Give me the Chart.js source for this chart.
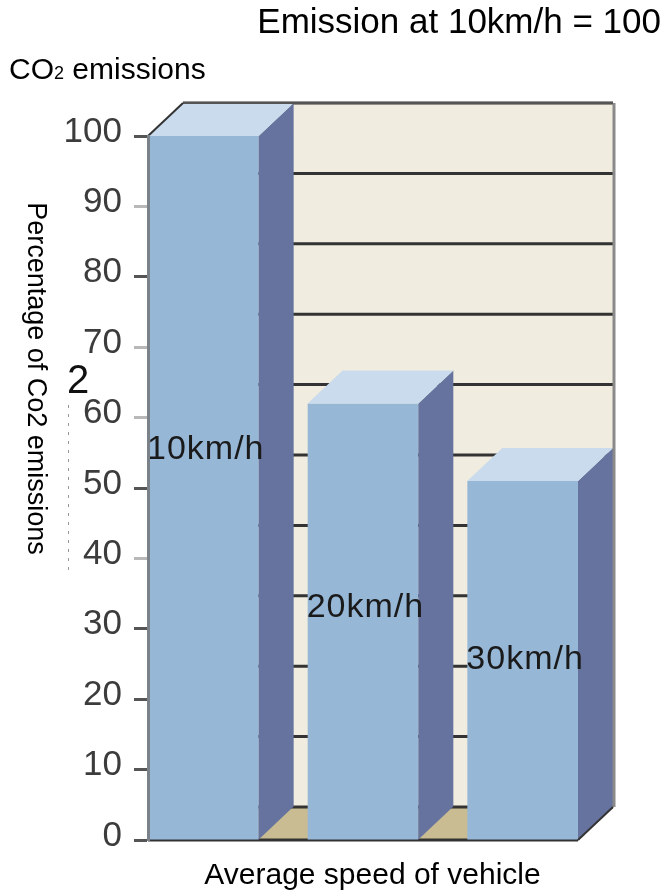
<!DOCTYPE html>
<html>
<head>
<meta charset="utf-8">
<script src="https://cdn.jsdelivr.net/npm/chart.js@4.4.1/dist/chart.umd.min.js"></script>
<style>
  html, body { margin: 0; padding: 0; background: #fff; }
  #wrap { position: relative; width: 667px; height: 892px; }
</style>
</head>
<body>
<div id="wrap"><canvas id="co2Chart"></canvas></div>
<script>
// data
const categories = ["10km/h", "20km/h", "30km/h"];
const emissions = [100, 62, 51];
const yTicks = [0, 10, 20, 30, 40, 50, 60, 70, 80, 90, 100];

const titleText = "Emission at 10km/h = 100";
const unitText = ["CO", "2", " emissions"];
const yTitle = "Percentage of Co2 emissions";
const xTitle = "Average speed of vehicle";

const FONT = '"Liberation Sans", Arial, sans-serif';
const DEPTH_X = 35;
const DEPTH_Y = 33;
const HALF_BAR = 0.3465;
// where each bar label sits, in axis units
const labelAt = [54.1, 31.7, 24.3];

const colors = {
  front: "#97b7d7",
  side: "#65739e",
  top: "#c9dbed",
  wall: "#f0ecdf",
  floor: "#c9bc92",
  grid: "#333333",
  frame: "#8a8a8a",
};

function poly(ctx, pts, fill) {
  ctx.beginPath();
  ctx.moveTo(pts[0][0], pts[0][1]);
  for (let i = 1; i < pts.length; i++) ctx.lineTo(pts[i][0], pts[i][1]);
  ctx.closePath();
  ctx.fillStyle = fill;
  ctx.fill();
}

function line(ctx, x1, y1, x2, y2) {
  ctx.beginPath();
  ctx.moveTo(x1, y1);
  ctx.lineTo(x2, y2);
  ctx.stroke();
}

const box3d = {
  id: "box3d",
  beforeDatasetsDraw(chart) {
    const { ctx, chartArea: a } = chart;
    const y = chart.scales.y;
    const dx = DEPTH_X, dy = DEPTH_Y;
    ctx.save();
    ctx.fillStyle = colors.wall;
    ctx.fillRect(a.left + dx, a.top - dy, a.right - a.left, a.bottom - a.top);
    poly(ctx, [[a.left, a.bottom], [a.right, a.bottom], [a.right + dx, a.bottom - dy], [a.left + dx, a.bottom - dy]], colors.floor);
    ctx.strokeStyle = colors.grid;
    ctx.lineWidth = 3;
    yTicks.forEach((v) => {
      const py = y.getPixelForValue(v) - dy;
      line(ctx, a.left + dx, py, a.right + dx, py);
    });
    line(ctx, a.left, a.bottom, a.right, a.bottom);
    ctx.restore();
  },
  afterDatasetsDraw(chart) {
    const { ctx, chartArea: a } = chart;
    const y = chart.scales.y;
    const dx = DEPTH_X, dy = DEPTH_Y;
    const meta = chart.getDatasetMeta(0);
    ctx.save();
    const edges = [];
    meta.data.forEach((bar) => {
      const p = bar.getProps(["x", "y", "width", "base"], true);
      const l = p.x - p.width / 2, r = p.x + p.width / 2;
      poly(ctx, [[r, p.y], [r + dx, p.y - dy], [r + dx, p.base - dy], [r, p.base]], colors.side);
      poly(ctx, [[l, p.y], [r, p.y], [r + dx, p.y - dy], [l + dx, p.y - dy]], colors.top);
      edges.push(l);
    });

    // frame of the box
    ctx.strokeStyle = colors.frame;
    ctx.lineWidth = 3;
    line(ctx, a.right + dx + 1, a.top - dy, a.right + dx + 1, a.bottom - dy);
    ctx.strokeStyle = "#555";
    ctx.lineWidth = 2;
    line(ctx, a.left + dx, a.top - dy, a.right + dx, a.top - dy);
    ctx.strokeStyle = "#333";
    line(ctx, a.left, a.top, a.left + dx, a.top - dy);
    line(ctx, a.right, a.bottom, a.right + dx, a.bottom - dy);

    // bar labels
    ctx.fillStyle = "#1a1a1a";
    ctx.font = "34px " + FONT;
    ctx.letterSpacing = "1px";
    ctx.textAlign = "left";
    ctx.textBaseline = "alphabetic";
    categories.forEach((c, i) => {
      ctx.fillText(c, edges[i] - 1, y.getPixelForValue(labelAt[i]));
    });
    ctx.restore();
  },
};

const texts = {
  id: "texts",
  afterDraw(chart) {
    const ctx = chart.ctx;
    ctx.save();
    ctx.fillStyle = "#000";
    ctx.textBaseline = "alphabetic";

    ctx.font = "35px " + FONT;
    ctx.textAlign = "right";
    ctx.fillText(titleText, 661, 33);

    ctx.textAlign = "left";
    let x = 9;
    ctx.font = "30px " + FONT;
    ctx.fillText(unitText[0], x, 79);
    x += ctx.measureText(unitText[0]).width;
    ctx.font = "18px " + FONT;
    ctx.fillText(unitText[1], x, 79);
    x += ctx.measureText(unitText[1]).width;
    ctx.font = "30px " + FONT;
    ctx.fillText(unitText[2], x, 79);

    ctx.font = "30px " + FONT;
    ctx.textAlign = "center";
    ctx.fillText(xTitle, 372.5, 884);

    // stray subscript and dashes left over in the original image
    ctx.textAlign = "left";
    ctx.font = "40px " + FONT;
    ctx.fillStyle = "#111";
    ctx.fillText("2", 67, 393);
    ctx.strokeStyle = "#999";
    ctx.lineWidth = 1;
    ctx.setLineDash([3, 6]);
    line(ctx, 68.5, 405, 68.5, 570);
    ctx.setLineDash([]);

    ctx.fillStyle = "#000";
    ctx.translate(28, 378.5);
    ctx.rotate(Math.PI / 2);
    ctx.font = "27px " + FONT;
    ctx.textAlign = "center";
    ctx.fillText(yTitle, 0, 0);
    ctx.restore();
  },
};

const lightTicks = [90, 70, 60, 40];

new Chart(document.getElementById("co2Chart"), {
  type: "bar",
  data: {
    datasets: [
      {
        data: emissions.map((v, i) => ({ x: i, y: v })),
        backgroundColor: colors.front,
        borderWidth: 0,
        barPercentage: 2 * HALF_BAR,
        categoryPercentage: 1,
      },
    ],
  },
  options: {
    responsive: true,
    maintainAspectRatio: false,
    animation: false,
    layout: { padding: { top: 136, right: 89, bottom: 52, left: 0 } },
    plugins: {
      legend: { display: false },
      tooltip: { enabled: false },
      title: { display: false },
    },
    scales: {
      x: {
        type: "linear",
        display: false,
        offset: false,
        min: -HALF_BAR,
        max: categories.length - 1 + HALF_BAR,
        afterBuildTicks: (s) => {
          s.ticks = categories.map((c, i) => ({ value: i }));
        },
      },
      y: {
        min: 0,
        max: 100,
        afterBuildTicks: (s) => {
          s.ticks = yTicks.map((v) => ({ value: v }));
        },
        afterFit: (s) => {
          s.width = 148;
        },
        ticks: {
          font: { family: FONT, size: 35 },
          color: "#3c3c3c",
          padding: 12,
          labelOffset: -4,
        },
        grid: {
          drawOnChartArea: false,
          drawTicks: true,
          tickLength: 14,
          tickWidth: 3,
          tickColor: (c) => (c.tick && lightTicks.includes(c.tick.value) ? "#b8b8b8" : "#555"),
        },
        border: { color: "#7b8189", width: 3, z: 1 },
      },
    },
  },
  plugins: [box3d, texts],
});
</script>
</body>
</html>
